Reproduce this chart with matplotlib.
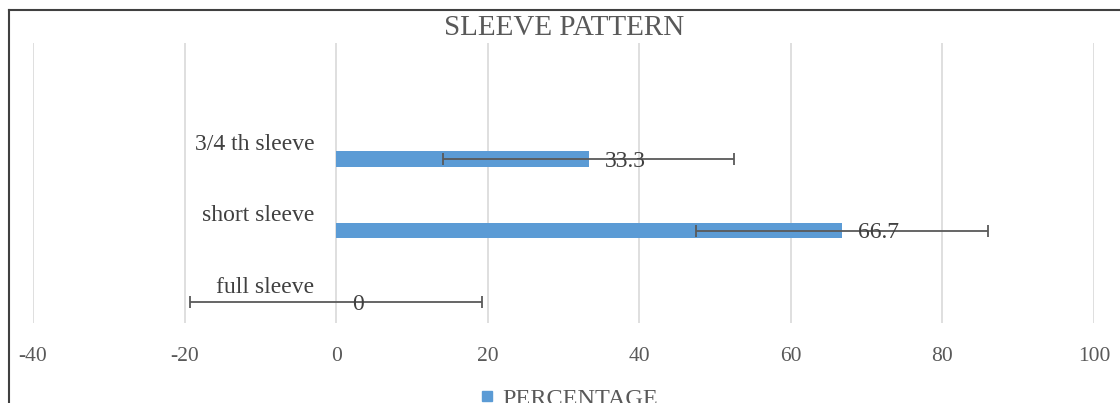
import matplotlib.pyplot as plt
from matplotlib.lines import Line2D
import numpy as np

categories = ["full sleeve", "short sleeve", "3/4 th sleeve"]
percentage = [0, 66.7, 33.3]
error = [19.25, 19.25, 19.25]
x_ticks = [-40, -20, 0, 20, 40, 60, 80, 100]

bar_color = '#5B9BD5'
text_color = '#595959'

plt.rcParams['font.family'] = ['Liberation Serif', 'DejaVu Serif']
plt.rcParams['axes.unicode_minus'] = False

fig = plt.figure(figsize=(11.2, 4.03), dpi=100)
ax = fig.add_axes([33 / 1120, 80 / 403, (1094 - 33) / 1120, 280 / 403])

y = np.arange(len(categories))
ax.barh(y, percentage, height=0.21, color=bar_color, zorder=2)
ax.errorbar(percentage, y, xerr=error, fmt='none', ecolor='#595959',
            elinewidth=1.3, capsize=4, capthick=1.3, zorder=3)

for i, (cat, val) in enumerate(zip(categories, percentage)):
    ax.annotate(cat, xy=(0, i), xytext=(-22, 15), textcoords='offset pixels',
                ha='right', va='center', fontsize=17, color='#404040')
    ax.annotate(f"{val:g}", xy=(val, i), xytext=(16, -2), textcoords='offset pixels',
                ha='left', va='center', fontsize=17, color='#404040', zorder=4)

ax.set_xlim(-40, 100)
ax.set_ylim(-0.29, 3.62)
ax.set_xticks(x_ticks)
ax.set_yticks([])
ax.xaxis.grid(True, color='#D9D9D9', linewidth=1.2, zorder=0)
ax.set_axisbelow(True)
ax.tick_params(axis='x', length=0, pad=17, labelsize=15.5, labelcolor=text_color)
for s in ax.spines.values():
    s.set_visible(False)

fig.text(0.504, 1 - 28 / 403, "SLEEVE PATTERN", ha='center', va='center',
         fontsize=21, color=text_color)

handle = Line2D([], [], marker='s', linestyle='none', markersize=7, color=bar_color)
fig.legend([handle], ["PERCENTAGE"], loc='center', bbox_to_anchor=(0.508, 0.01),
           frameon=False, fontsize=17.5, handlelength=0.6, handletextpad=0.35,
           labelcolor=text_color)

# chart border, cut off on the right and bottom
fig.add_artist(Line2D([9 / 1120, 9 / 1120], [0, 1 - 10 / 403], color='#404040', linewidth=1.5))
fig.add_artist(Line2D([9 / 1120, 1], [1 - 10 / 403, 1 - 10 / 403], color='#404040', linewidth=1.5))

fig.savefig('out.png', dpi=100)
